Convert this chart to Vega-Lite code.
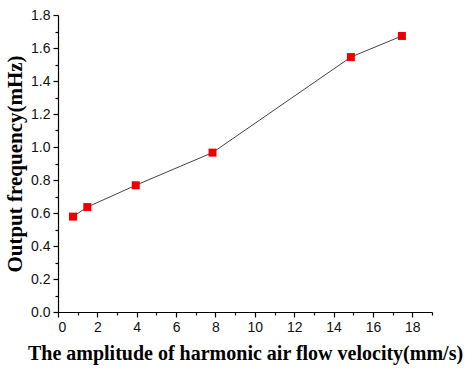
{
  "$schema": "https://vega.github.io/schema/vega-lite/v6.json",
  "autosize": "none",
  "padding": {"left": 58, "top": 15, "right": 42, "bottom": 64},
  "width": 374,
  "height": 297,
  "background": "white",
  "data": {"values": [
    {"v": 0.76, "f": 0.578},
    {"v": 1.49, "f": 0.636},
    {"v": 3.95, "f": 0.768},
    {"v": 7.85, "f": 0.966},
    {"v": 14.88, "f": 1.545},
    {"v": 17.47, "f": 1.673}
  ]},
  "encoding": {
    "x": {"field": "v", "type": "quantitative",
      "scale": {"domain": [0, 19], "nice": false, "zero": false},
      "axis": {"title": "The amplitude of harmonic air flow velocity(mm/s)",
        "values": [0,1,2,3,4,5,6,7,8,9,10,11,12,13,14,15,16,17,18,19],
        "labelExpr": "datum.value % 2 == 0 && datum.value < 19 ? datum.label : ''",
        "tickSize": {"condition": {"test": "datum.value % 2 == 0", "value": 5}, "value": 3},
        "grid": false, "domainColor": "black", "tickColor": "black", "domainWidth": 1.2, "tickWidth": 1.2,
        "labelFont": "Liberation Sans", "labelFontSize": 14, "labelColor": "#111", "labelPadding": 3,
        "titleFont": "Liberation Serif", "titleFontSize": 20, "titleFontWeight": "bold", "titleColor": "black", "titlePadding": 9}},
    "y": {"field": "f", "type": "quantitative",
      "scale": {"domain": [0, 1.8], "nice": false},
      "axis": {"title": "Output frequency(mHz)",
        "values": [0,0.1,0.2,0.3,0.4,0.5,0.6,0.7,0.8,0.9,1.0,1.1,1.2,1.3,1.4,1.5,1.6,1.7,1.8],
        "format": ".1f",
        "labelExpr": "round(datum.value*10) % 2 == 0 ? datum.label : ''",
        "tickSize": {"condition": {"test": "round(datum.value*10) % 2 == 0", "value": 5}, "value": 3},
        "grid": false, "domainColor": "black", "tickColor": "black", "domainWidth": 1.2, "tickWidth": 1.2,
        "labelFont": "Liberation Sans", "labelFontSize": 14, "labelColor": "#111", "labelPadding": 3,
        "titleFont": "Liberation Serif", "titleFontSize": 21, "titleFontWeight": "bold", "titleColor": "black", "titlePadding": 5}}
  },
  "layer": [
    {"mark": {"type": "line", "color": "#444", "strokeWidth": 1}},
    {"mark": {"type": "point", "shape": "square", "filled": true, "color": "#ee0000", "opacity": 1, "size": 64}}
  ],
  "config": {"view": {"stroke": null}}
}
